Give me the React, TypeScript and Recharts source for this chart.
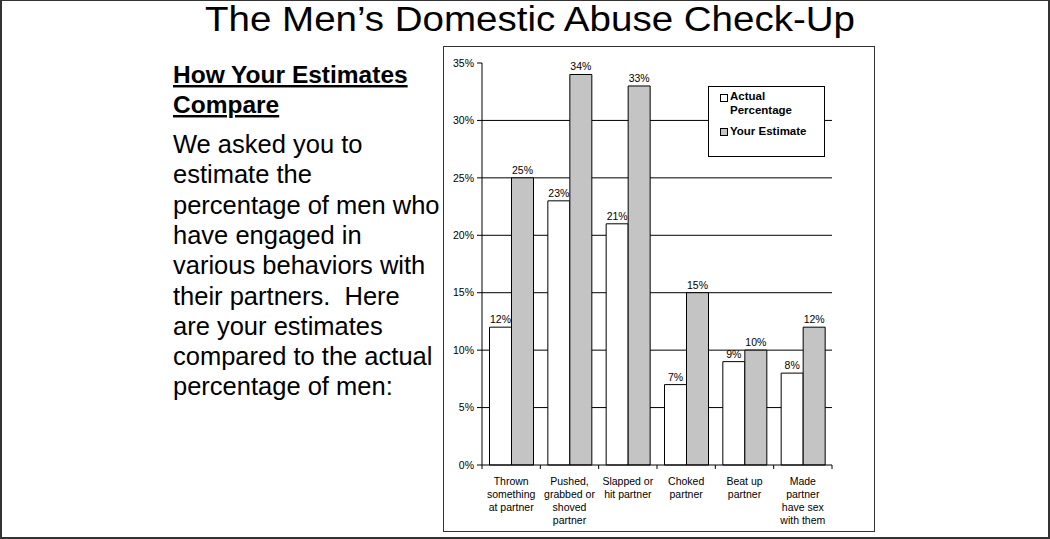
import React from "react"
import {
  BarChart,
  Bar,
  XAxis,
  YAxis,
  CartesianGrid,
  Legend,
  LabelList,
} from "recharts"

const slideTitle = "The Men’s Domestic Abuse Check-Up"
const headingLines = ["How Your Estimates", "Compare"]
const bodyLines = [
  "We asked you to",
  "estimate the",
  "percentage of men who",
  "have engaged in",
  "various behaviors with",
  "their partners.  Here",
  "are your estimates",
  "compared to the actual",
  "percentage of men:",
]

// each category label is drawn on several lines, like the original
const categoryLines = [
  ["Thrown", "something", "at partner"],
  ["Pushed,", "grabbed or", "shoved", "partner"],
  ["Slapped or", "hit partner"],
  ["Choked", "partner"],
  ["Beat up", "partner"],
  ["Made", "partner", "have sex", "with them"],
]
const actualPct = [12, 23, 21, 7, 9, 8]
const estimatePct = [25, 34, 33, 15, 10, 12]
const yTicks = [0, 5, 10, 15, 20, 25, 30, 35]
const gridValues = [5, 10, 15, 20, 25, 30]
const seriesNames = ["Actual Percentage", "Your Estimate"]
const legendLines = [["Actual", "Percentage"], ["Your Estimate"]]

const FONT = "'Liberation Sans', Arial, sans-serif"
const GREY = "#c4c4c4"

const data = categoryLines.map((lines, i) => ({
  name: lines.join(" "),
  actual: actualPct[i],
  estimate: estimatePct[i],
}))

const linesByName: Record<string, string[]> = {}
categoryLines.forEach((l) => (linesByName[l.join(" ")] = l))

const CategoryTick = (props: any) => {
  const { x, y, payload, width, visibleTicksCount, index } = props
  const half =
    payload && typeof payload.offset === "number" && payload.offset > 0
      ? payload.offset
      : width / (visibleTicksCount * 2)
  const lines = linesByName[payload.value] || [String(payload.value)]
  return (
    <g>
      <line x1={x - half} x2={x - half} y1={y} y2={y + 4} stroke="#000" />
      {index === visibleTicksCount - 1 && (
        <line x1={x + half} x2={x + half} y1={y} y2={y + 4} stroke="#000" />
      )}
      {lines.map((t, k) => (
        <text
          key={k}
          x={x}
          y={y + 19.5 + k * 13.3}
          textAnchor="middle"
          fontSize={10.5}
          fill="#000"
        >
          {t}
        </text>
      ))}
    </g>
  )
}

const LegendBox = () => {
  const fills = ["#fff", GREY]
  const centers = [11.3, 45.7]
  return (
    <div
      style={{
        position: "relative",
        width: 117,
        height: 71,
        boxSizing: "border-box",
        border: "1px solid #000",
        background: "#fff",
        fontFamily: FONT,
        fontWeight: "bold",
        fontSize: 11.5,
        lineHeight: "13.7px",
        color: "#000",
      }}
    >
      {legendLines.map((lines, i) => (
        <React.Fragment key={i}>
          <div
            style={{
              position: "absolute",
              left: 11,
              top: centers[i] - 4.5,
              width: 8,
              height: 8,
              boxSizing: "border-box",
              border: "1px solid #000",
              background: fills[i],
            }}
          />
          <div
            style={{
              position: "absolute",
              left: 21,
              top: centers[i] - 7.85,
              whiteSpace: "nowrap",
            }}
          >
            {lines.map((t, k) => (
              <div key={k}>{t}</div>
            ))}
          </div>
        </React.Fragment>
      ))}
    </div>
  )
}

const gridGenerator = (p: any) => {
  const yAxis = p && p.yAxis
  if (yAxis && typeof yAxis.scale === "function") {
    return gridValues.map((v) => yAxis.scale(v))
  }
  const off = p.offset
  return gridValues.map((v) => off.top + off.height * (1 - v / 35))
}

export default function App() {
  return (
    <div
      style={{
        position: "absolute",
        left: 0,
        top: 0,
        width: 1050,
        height: 539,
        boxSizing: "border-box",
        border: "2px solid #333",
        borderTopWidth: 1,
        background: "#fff",
        overflow: "hidden",
      }}
    >
      <svg
        width={1050}
        height={539}
        style={{ position: "absolute", left: -2, top: -1, fontFamily: FONT }}
      >
        <text
          x={530}
          y={31}
          textAnchor="middle"
          fontSize={35}
          textLength={650}
          lengthAdjust="spacingAndGlyphs"
          fill="#000"
        >
          {slideTitle}
        </text>
        {headingLines.map((t, i) => (
          <text
            key={t}
            x={173}
            y={83 + i * 30}
            fontSize={24.5}
            fontWeight="bold"
            textDecoration="underline"
            fill="#000"
          >
            {t}
          </text>
        ))}
        {bodyLines.map((t, i) => (
          <text
            key={i}
            x={173}
            y={153 + i * 30.3}
            fontSize={25.5}
            fill="#000"
            style={{ whiteSpace: "pre" }}
          >
            {t}
          </text>
        ))}
      </svg>

      <div
        style={{
          position: "absolute",
          left: 441,
          top: 45,
          width: 432,
          height: 486,
          boxSizing: "border-box",
          border: "1.5px solid #333",
        }}
      />

      <div style={{ position: "absolute", left: 442, top: 46, fontFamily: FONT }}>
        <BarChart
          width={430}
          height={484}
          data={data}
          margin={{ top: 16, right: 42, left: 0, bottom: 0 }}
          barCategoryGap={7.5}
          barGap={0}
        >
          <CartesianGrid
            vertical={false}
            stroke="#000"
            horizontalCoordinatesGenerator={gridGenerator}
          />
          <XAxis
            dataKey="name"
            interval={0}
            height={66}
            tickLine={false}
            tickSize={0}
            tickMargin={0}
            axisLine={{ stroke: "#000" }}
            tick={<CategoryTick />}
          />
          <YAxis
            width={38}
            domain={[0, 35]}
            ticks={yTicks}
            tickFormatter={(v) => `${v}%`}
            tickSize={5}
            tickMargin={3}
            axisLine={{ stroke: "#000" }}
            tickLine={{ stroke: "#000" }}
            tick={{ fontSize: 10.5, fill: "#000" }}
          />
          <Legend
            layout="horizontal"
            verticalAlign="middle"
            content={<LegendBox />}
            wrapperStyle={{ left: 264, top: 39, width: 117, height: 71 }}
          />
          <Bar
            dataKey="actual"
            name={seriesNames[0]}
            fill="#fff"
            stroke="#000"
            strokeWidth={1}
            isAnimationActive={false}
          >
            <LabelList
              dataKey="actual"
              position="top"
              offset={4}
              formatter={(v: any) => `${v}%`}
              style={{ fontSize: 10.5, fill: "#000" }}
            />
          </Bar>
          <Bar
            dataKey="estimate"
            name={seriesNames[1]}
            fill={GREY}
            stroke="#000"
            strokeWidth={1}
            isAnimationActive={false}
          >
            <LabelList
              dataKey="estimate"
              position="top"
              offset={4}
              formatter={(v: any) => `${v}%`}
              style={{ fontSize: 10.5, fill: "#000" }}
            />
          </Bar>
        </BarChart>
      </div>
    </div>
  )
}
